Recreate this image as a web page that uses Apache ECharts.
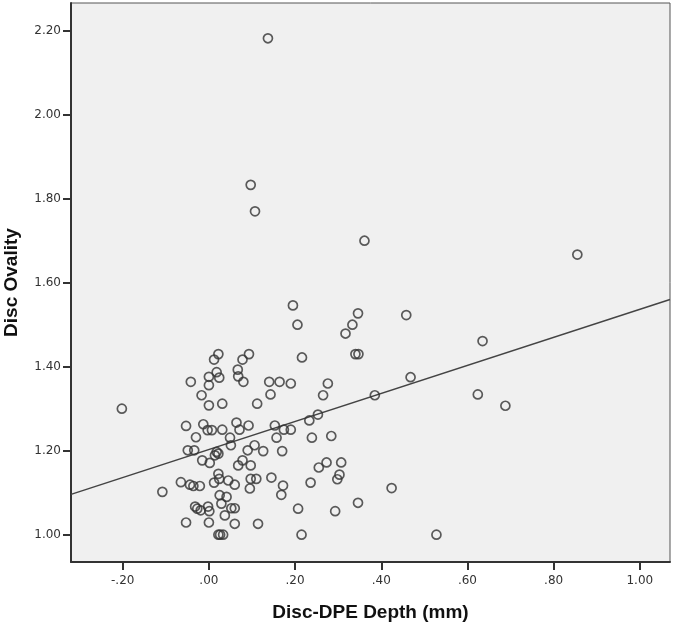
<!DOCTYPE html>
<html>
<head>
<meta charset="utf-8">
<script src="https://cdn.jsdelivr.net/npm/echarts@6/dist/echarts.min.js"></script>
<style>
html,body{margin:0;padding:0;background:#fff;}
#chart{width:675px;height:627px;}
</style>
</head>
<body>
<div id="chart"></div>
<script>
// Disc-DPE Depth (mm)
var depth = [
0.137,0.097,0.107,0.361,0.855,0.195,0.2055,0.346,0.333,0.317,
0.458,0.340,0.347,0.216,0.635,0.468,0.624,0.688,0.424,0.528,
0.385,-0.202,-0.108,
0.022,0.012,0.093,0.078,0.067,0.018,0.068,0.000,0.024,-0.042,
0.080,0.000,-0.017,0.000,0.031,0.112,-0.053,-0.013,-0.003,0.007,
0.031,0.064,0.092,0.071,-0.030,0.049,0.051,-0.049,-0.034,0.018,
0.022,0.014,0.090,0.106,-0.0155,0.002,0.068,0.078,0.097,-0.065,
-0.044,-0.036,-0.021,0.022,0.024,0.012,0.045,0.060,0.097,0.110,
0.095,0.025,0.041,0.029,0.052,0.060,-0.032,-0.027,-0.019,-0.002,
0.001,0.037,-0.053,0.000,0.060,0.114,0.022,0.026,0.033,
0.140,0.164,0.190,0.276,0.143,0.265,0.253,0.233,0.153,0.174,
0.190,0.157,0.239,0.284,0.126,0.170,0.273,0.255,0.307,0.303,
0.298,0.236,0.145,0.172,0.168,0.207,0.293,0.346,0.215
];
// Disc Ovality
var ovality = [
2.182,1.833,1.770,1.700,1.667,1.546,1.500,1.527,1.500,1.479,
1.523,1.430,1.430,1.422,1.461,1.375,1.334,1.307,1.111,1.000,
1.332,1.300,1.102,
1.430,1.417,1.430,1.417,1.393,1.387,1.377,1.376,1.374,1.364,
1.364,1.356,1.332,1.308,1.312,1.312,1.259,1.263,1.249,1.249,
1.250,1.267,1.260,1.250,1.232,1.231,1.213,1.201,1.201,1.197,
1.193,1.189,1.201,1.213,1.177,1.171,1.165,1.177,1.165,1.125,
1.119,1.116,1.116,1.145,1.133,1.124,1.129,1.119,1.133,1.133,
1.110,1.094,1.090,1.074,1.063,1.063,1.067,1.062,1.058,1.067,
1.056,1.046,1.029,1.029,1.026,1.026,1.000,1.000,1.000,
1.364,1.364,1.360,1.360,1.334,1.332,1.286,1.272,1.260,1.250,
1.250,1.231,1.231,1.235,1.199,1.199,1.172,1.160,1.172,1.143,
1.132,1.124,1.136,1.117,1.095,1.062,1.056,1.076,1.000
];
// fit line end points
var fitX = [-0.32, 1.07];
var fitY = [1.096, 1.560];
// tick labels
var xTicks = [-0.2, 0, 0.2, 0.4, 0.6, 0.8, 1.0];
var yTicks = [1.0, 1.2, 1.4, 1.6, 1.8, 2.0, 2.2];

var points = depth.map(function (d, i) { return [d, ovality[i]]; });
var fitData = fitX.map(function (d, i) { return [d, fitY[i]]; });

function fmtX(v) {
  var s = Math.abs(v).toFixed(2);
  if (s.charAt(0) === '0') s = s.substring(1);
  return (v < -1e-9 ? '-' : '') + s;
}

var chart = echarts.init(document.getElementById('chart'), null, {renderer: 'canvas'});
chart.setOption({
  animation: false,
  backgroundColor: '#ffffff',
  grid: {
    left: 71, right: 5, top: 3, bottom: 65,
    containLabel: false, outerBoundsMode: 'none',
    show: true, backgroundColor: '#F0F0F0', borderColor: '#555', borderWidth: 1
  },
  xAxis: {
    type: 'value', min: -0.32, max: 1.07,
    name: 'Disc-DPE Depth (mm)', nameLocation: 'middle', nameGap: 41,
    nameTextStyle: {fontFamily: 'Liberation Sans', fontWeight: 'bold', fontSize: 19, color: '#111'},
    axisLine: {show: true, onZero: false, lineStyle: {color: '#333', width: 2}},
    axisTick: {show: true, length: 8, lineStyle: {color: '#333', width: 2}, customValues: xTicks},
    axisLabel: {customValues: xTicks, formatter: fmtX, margin: 13,
      fontFamily: 'DejaVu Sans', fontSize: 12, color: '#333'},
    splitLine: {show: false}
  },
  yAxis: {
    type: 'value', min: 0.935, max: 2.266,
    name: 'Disc Ovality', nameLocation: 'middle', nameGap: 50, nameRotate: 90,
    nameTextStyle: {fontFamily: 'Liberation Sans', fontWeight: 'bold', fontSize: 19, color: '#111'},
    axisLine: {show: true, onZero: false, lineStyle: {color: '#333', width: 2}},
    axisTick: {show: true, length: 8, lineStyle: {color: '#333', width: 2}, customValues: yTicks},
    axisLabel: {customValues: yTicks, formatter: function (v) { return v.toFixed(2); }, margin: 10,
      fontFamily: 'DejaVu Sans', fontSize: 12, color: '#333'},
    splitLine: {show: false}
  },
  series: [
    {
      type: 'line', data: fitData, symbol: 'none', silent: true,
      lineStyle: {color: '#444', width: 1.5}, z: 1
    },
    {
      type: 'scatter', data: points, symbol: 'circle', symbolSize: 9,
      itemStyle: {color: 'rgba(0,0,0,0)', borderColor: '#333', borderWidth: 1.7}, z: 2
    }
  ]
});
</script>
</body>
</html>
